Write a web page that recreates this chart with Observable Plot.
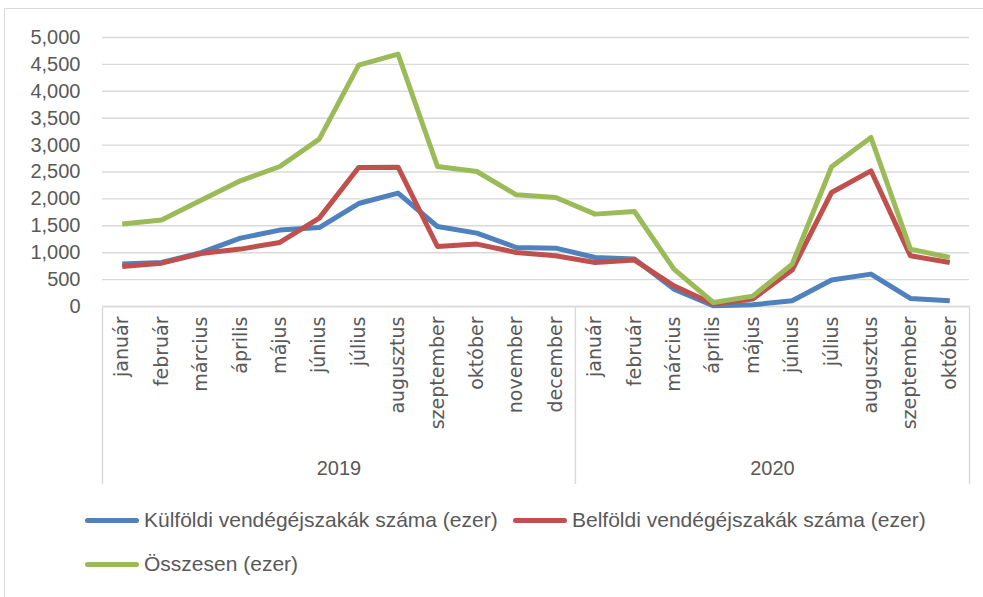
<!DOCTYPE html>
<html>
<head>
<meta charset="utf-8">
<script src="https://cdn.jsdelivr.net/npm/d3@7"></script>
<script src="https://cdn.jsdelivr.net/npm/@observablehq/plot@0.6"></script>
<style>
  html, body { margin: 0; padding: 0; background: #fff; overflow: hidden; width: 983px; height: 597px; }
  #wrap { position: relative; width: 983px; height: 597px; }
  #frame { position: absolute; left: 4px; top: 8px; width: 1000px; height: 640px; border: 1px solid #d9d9d9; box-sizing: border-box; }
  #chart { position: absolute; left: 0; top: 0; }
  .leg { position: absolute; display: flex; align-items: center; font-family: "Liberation Sans", Arial, sans-serif; font-size: 21px; color: #595959; white-space: nowrap; }
  .sw { width: 54px; height: 5px; border-radius: 3px; margin-right: 5px; }
</style>
</head>
<body>
<div id="wrap">
  <div id="frame"></div>
  <div id="chart"></div>
  <div class="leg" style="left:85px; top:508px;"><div class="sw" style="background:#4f81bd"></div><span id="l0"></span></div>
  <div class="leg" style="left:513px; top:508px;"><div class="sw" style="background:#c0504d"></div><span id="l1"></span></div>
  <div class="leg" style="left:85px; top:552px;"><div class="sw" style="background:#9bbb59"></div><span id="l2"></span></div>
</div>
<script>
const years = ["2019", "2020"];
const months2019 = ["január","február","március","április","május","június","július","augusztus","szeptember","október","november","december"];
const months2020 = ["január","február","március","április","május","június","július","augusztus","szeptember","október"];
const seriesNames = ["Külföldi vendégéjszakák száma (ezer)", "Belföldi vendégéjszakák száma (ezer)", "Összesen (ezer)"];
const seriesColors = ["#4f81bd", "#c0504d", "#9bbb59"];
const yTicks = [0, 500, 1000, 1500, 2000, 2500, 3000, 3500, 4000, 4500, 5000];

const kulfoldi = [788, 818, 1000, 1271, 1420, 1468, 1914, 2108, 1487, 1364, 1097, 1085,
                  911, 881, 323, 13, 32, 106, 491, 602, 149, 106];
const belfoldi = [744, 806, 985, 1067, 1190, 1643, 2584, 2590, 1115, 1160, 1004, 942,
                  818, 862, 385, 45, 138, 677, 2119, 2522, 942, 818];
const osszesen = [1532, 1606, 1975, 2336, 2602, 3111, 4487, 4691, 2602, 2509, 2076, 2026,
                  1717, 1766, 695, 74, 193, 788, 2597, 3141, 1067, 911];

const monthLabels = months2019.concat(months2020);
const seriesValues = [kulfoldi, belfoldi, osszesen];
const data = [];
seriesValues.forEach((vals, s) => vals.forEach((v, i) => data.push({i, v, series: seriesNames[s]})));

seriesNames.forEach((n, k) => document.getElementById("l" + k).textContent = n);

const n = monthLabels.length;
const split = months2019.length - 0.5;
const grey = "#595959";

const chart = Plot.plot({
  width: 983,
  height: 597,
  marginLeft: 102,
  marginRight: 14,
  marginTop: 37,
  marginBottom: 291,
  style: { background: "transparent", fontFamily: "Liberation Sans, Arial, sans-serif", color: grey },
  x: { type: "linear", domain: [-0.5, n - 0.5], label: null },
  y: { domain: [0, 5000], label: null },
  color: { domain: seriesNames, range: seriesColors },
  marks: [
    Plot.gridY(yTicks, { stroke: "#d9d9d9", strokeOpacity: 1, strokeWidth: 1.4 }),
    Plot.axisY(yTicks, { tickSize: 0, tickPadding: 22, tickFormat: d3.format(","), fontSize: 20, fill: grey, label: null }),
    Plot.ruleY([0], { stroke: "#d9d9d9", strokeWidth: 1.4 }),
    Plot.axisX([-0.5, split, n - 0.5], { tickSize: 178, stroke: "#d9d9d9", strokeOpacity: 1, strokeWidth: 1.4, tickFormat: () => "", label: null }),
    Plot.axisX(d3.range(n), { tickSize: 0, tickPadding: 10, tickRotate: -90, tickFormat: i => monthLabels[i], fontSize: 19, fontFamily: "DejaVu Sans", fill: grey, label: null }),
    Plot.axisX([(months2019.length - 1) / 2, months2019.length + (months2020.length - 1) / 2], { tickSize: 0, tickPadding: 154, tickFormat: d => d < split ? years[0] : years[1], fontSize: 20, fill: grey, label: null }),
    ...seriesNames.map(name => Plot.line(data.filter(d => d.series === name), {
      x: "i", y: "v", stroke: "series", strokeWidth: 5, strokeLinejoin: "round", strokeLinecap: "butt"
    }))
  ]
});
document.getElementById("chart").appendChild(chart);
</script>
</body>
</html>
